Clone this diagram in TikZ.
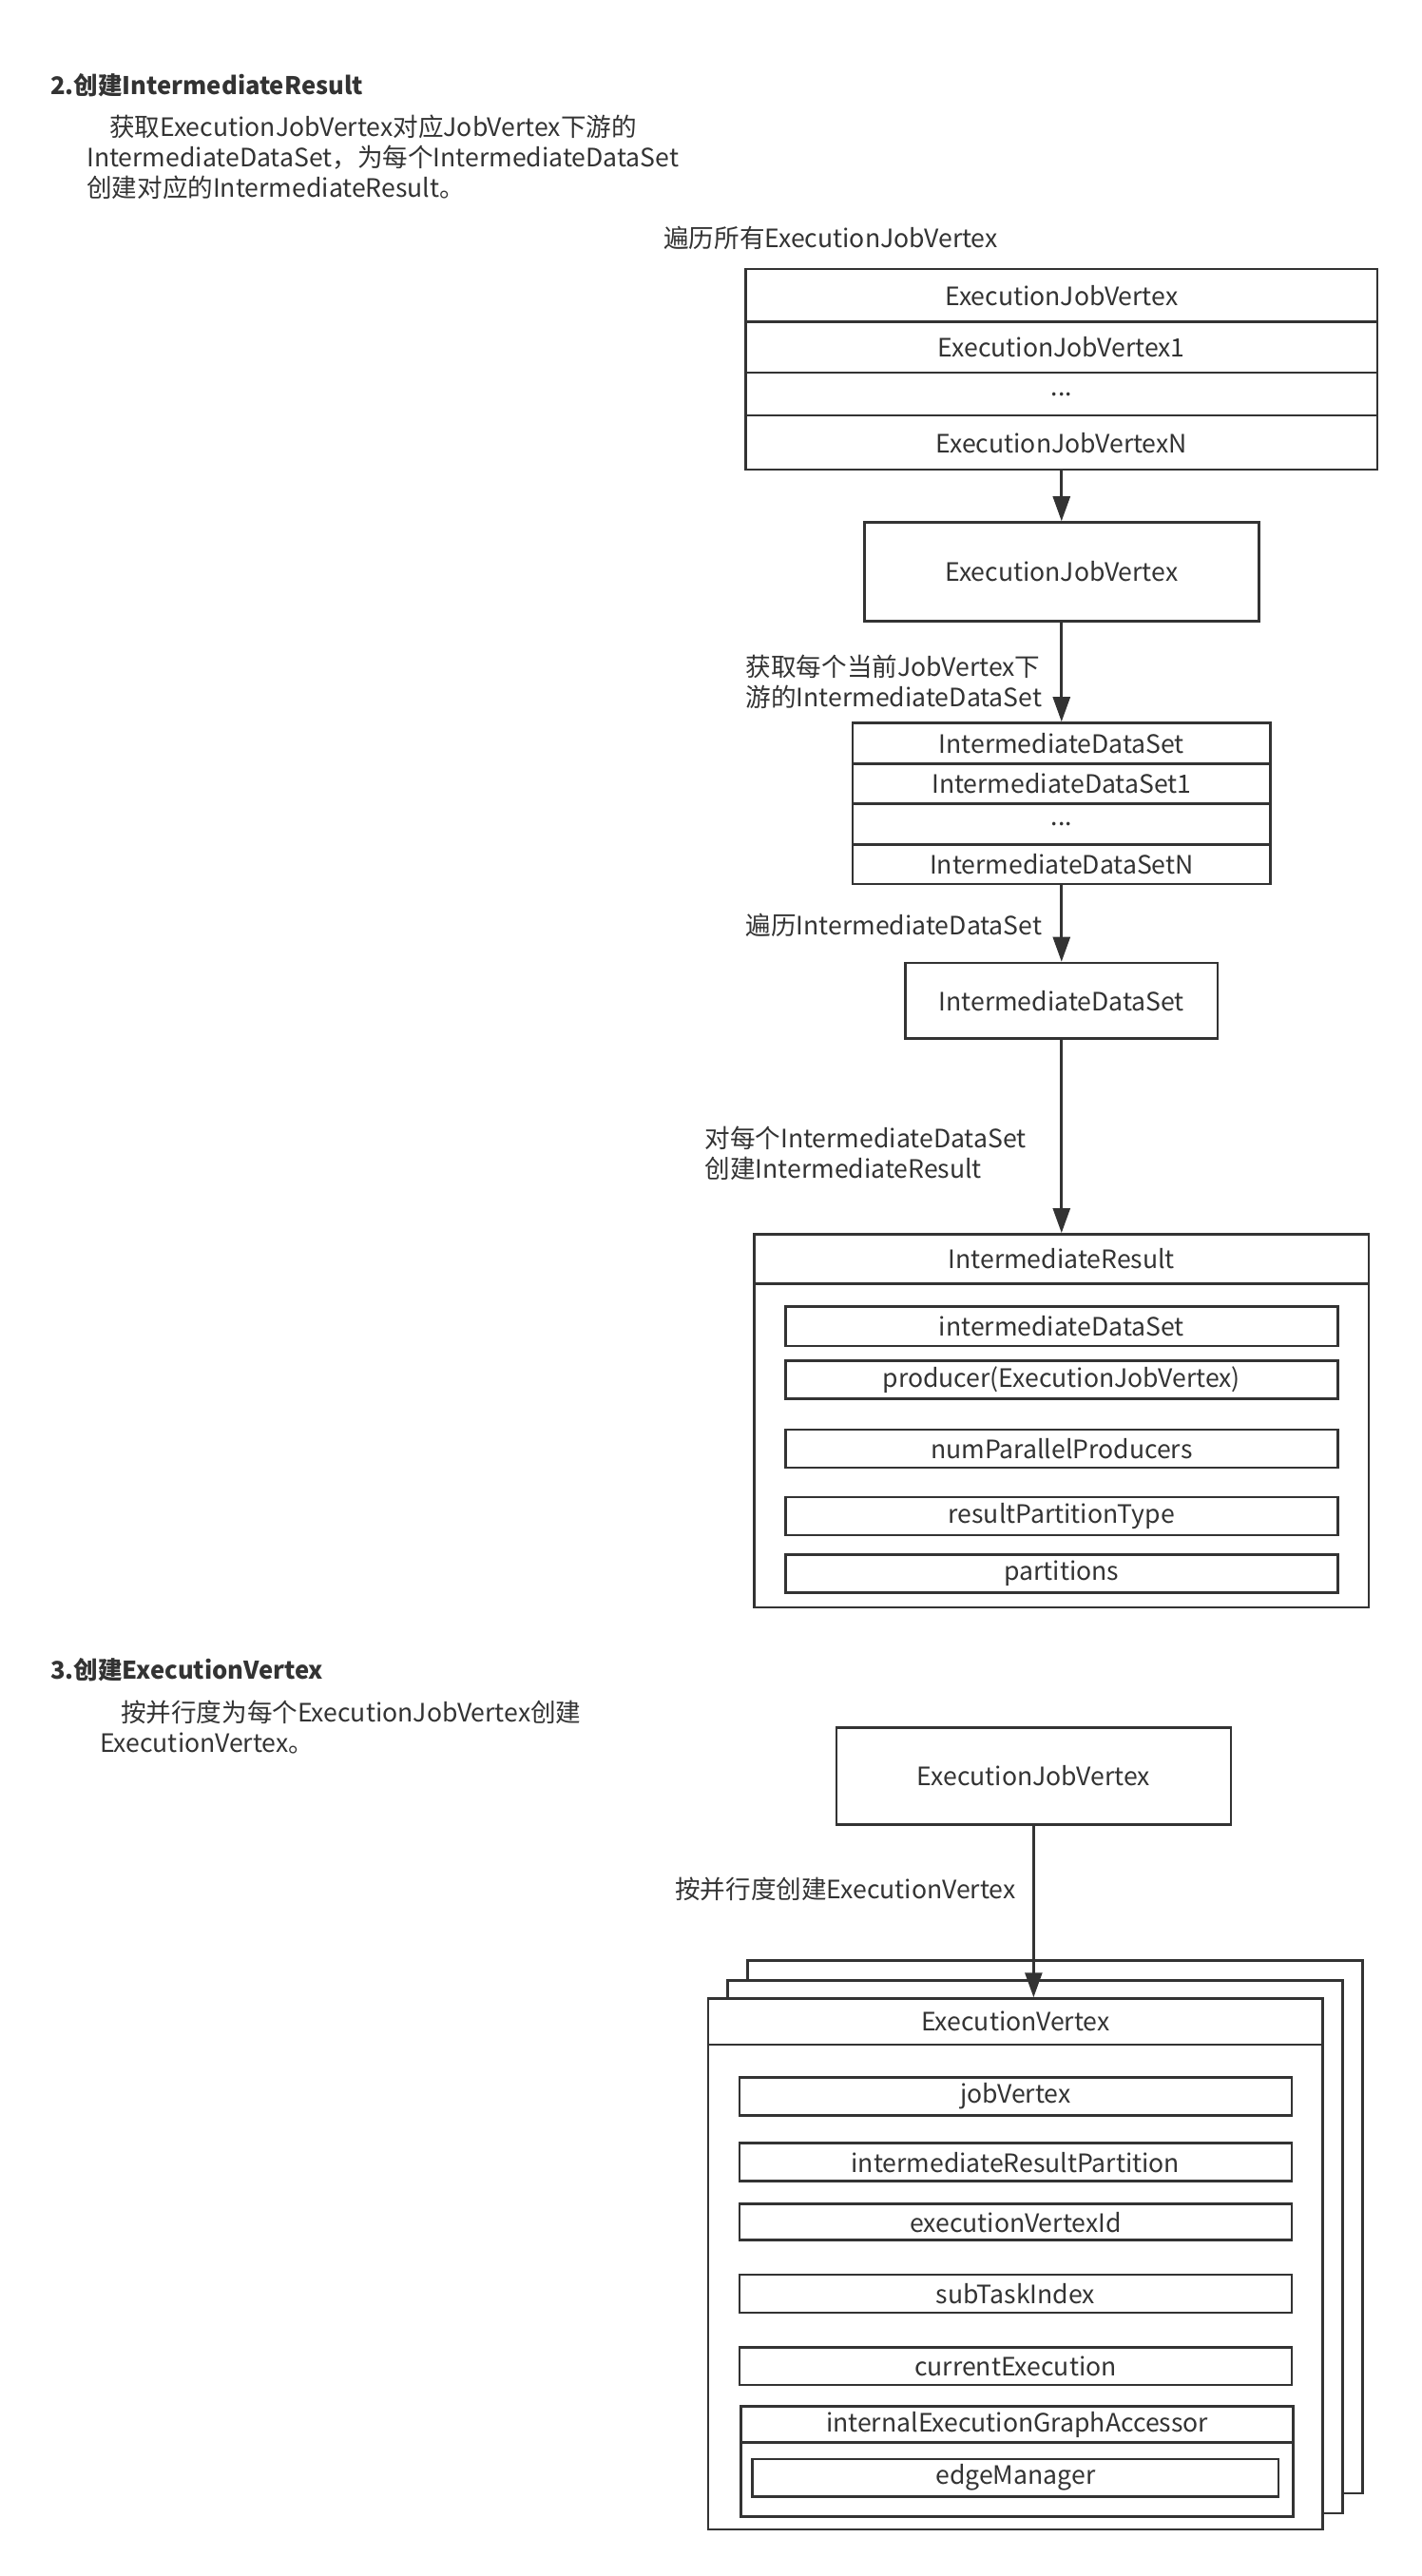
\documentclass[tikz,border=0pt]{standalone}
\usepackage{fontspec}
\setmainfont{Noto Sans CJK SC}
\usetikzlibrary{arrows.meta}
\definecolor{inkgray}{HTML}{333333}

\begin{document}
\begin{tikzpicture}[x=0.865pt, y=-0.865pt, font=\fontsize{13.3}{16}\selectfont, color=inkgray, line width=1.3pt]
%% coordinates are read off the reference, y runs downwards
%% wh={w}{h} gives the box size in the same units
\tikzstyle{arc}=[-{Triangle[length=13pt,width=9pt]}]
\tikzstyle{box}=[draw, rectangle, inner sep=0pt, anchor=north west, fill=white]
\tikzstyle{lbl}=[anchor=west, inner sep=0pt, align=left]
\tikzstyle{heading}=[lbl, font=\fontsize{12.8}{16}\selectfont\bfseries]
\tikzset{wh/.style 2 args={minimum width=#1*0.865pt, minimum height=#2*0.865pt}}
\useasboundingbox (0,0) rectangle (865,1567);
%% Section 2 %%
\node[heading] at (30,52) (title2) {2.创建IntermediateResult};
\node[lbl] at (52,95.5) (desc2) {\hspace*{12pt}获取ExecutionJobVertex对应JobVertex下游的\\IntermediateDataSet，为每个IntermediateDataSet\\创建对应的IntermediateResult。};
%% list of all ExecutionJobVertex
\node[lbl] at (403,145) (lbl_all) {遍历所有ExecutionJobVertex};
\node[box, wh={384}{32}] at (453,163) (ejv_l0) {ExecutionJobVertex};
\node[box, wh={384}{31}] at (453,195) (ejv_l1) {ExecutionJobVertex1};
\node[box, wh={384}{26}] at (453,226) (ejv_l2) {...};
\node[box, wh={384}{33}] at (453,252) (ejv_lN) {ExecutionJobVertexN};
\node[box, wh={240}{60}] at (525,317) (ejv) {ExecutionJobVertex};
\draw[arc] (ejv_lN.south) -- (ejv.north);
%% list of downstream IntermediateDataSet
\node[lbl] at (453,415) (lbl_get) {获取每个当前JobVertex下\\游的IntermediateDataSet};
\node[box, wh={254}{25}] at (518,439) (ids_l0) {IntermediateDataSet};
\node[box, wh={254}{24}] at (518,464) (ids_l1) {IntermediateDataSet1};
\node[box, wh={254}{25}] at (518,488) (ids_l2) {...};
\node[box, wh={254}{24}] at (518,513) (ids_lN) {IntermediateDataSetN};
\draw[arc] (ejv.south) -- (ids_l0.north);
\node[lbl] at (453,563) (lbl_each) {遍历IntermediateDataSet};
\node[box, wh={190}{46}] at (550,585) (ids) {IntermediateDataSet};
\draw[arc] (ids_lN.south) -- (ids.north);
%% IntermediateResult and its fields
\node[lbl] at (428,701.5) (lbl_create) {对每个IntermediateDataSet\\创建IntermediateResult};
\node[box, wh={374}{30}] at (458,750) (ir) {IntermediateResult};
\node[box, wh={374}{197}] at (458,780) (ir_body) {};
\node[box, wh={336}{24}] at (477,794) (ir_ds) {intermediateDataSet};
\node[box, wh={336}{23}] at (477,827) (ir_prod) {producer(ExecutionJobVertex)};
\node[box, wh={336}{23}] at (477,869) (ir_num) {numParallelProducers};
\node[box, wh={336}{23}] at (477,910) (ir_type) {resultPartitionType};
\node[box, wh={336}{23}] at (477,945) (ir_parts) {partitions};
\draw[arc] (ids.south) -- (ir.north);
%% Section 3 %%
\node[heading] at (30,1016) (title3) {3.创建ExecutionVertex};
\node[lbl] at (60,1050.5) (desc3) {\hspace*{11pt}按并行度为每个ExecutionJobVertex创建\\ExecutionVertex。};
\node[box, wh={240}{59}] at (508,1050) (ejv2) {ExecutionJobVertex};
\node[lbl] at (410,1149) (lbl_par) {按并行度创建ExecutionVertex};
%% stacked copies of ExecutionVertex
\node[box, wh={374}{324}] at (454,1192) (ev_c) {};
\node[box, wh={374}{324}] at (442,1204) (ev_b) {};
\node[box, wh={374}{28}] at (430,1215) (ev) {ExecutionVertex};
\node[box, wh={374}{295}] at (430,1243) (ev_body) {};
\node[box, wh={336}{23}] at (449,1263) (ev_job) {jobVertex};
\node[box, wh={336}{23}] at (449,1303) (ev_irp) {intermediateResultPartition};
\node[box, wh={336}{22}] at (449,1340) (ev_id) {executionVertexId};
\node[box, wh={336}{23}] at (449,1383) (ev_sub) {subTaskIndex};
\node[box, wh={336}{23}] at (449,1427) (ev_cur) {currentExecution};
\node[box, wh={336}{22}] at (450,1463) (ev_acc) {internalExecutionGraphAccessor};
\node[box, wh={336}{45}] at (450,1485) (ev_acc_body) {};
\node[box, wh={320}{23}] at (457,1495) (ev_edge) {edgeManager};
\draw[arc] (ejv2.south) -- (ejv2.south |- ev.north);
\end{tikzpicture}
\end{document}
